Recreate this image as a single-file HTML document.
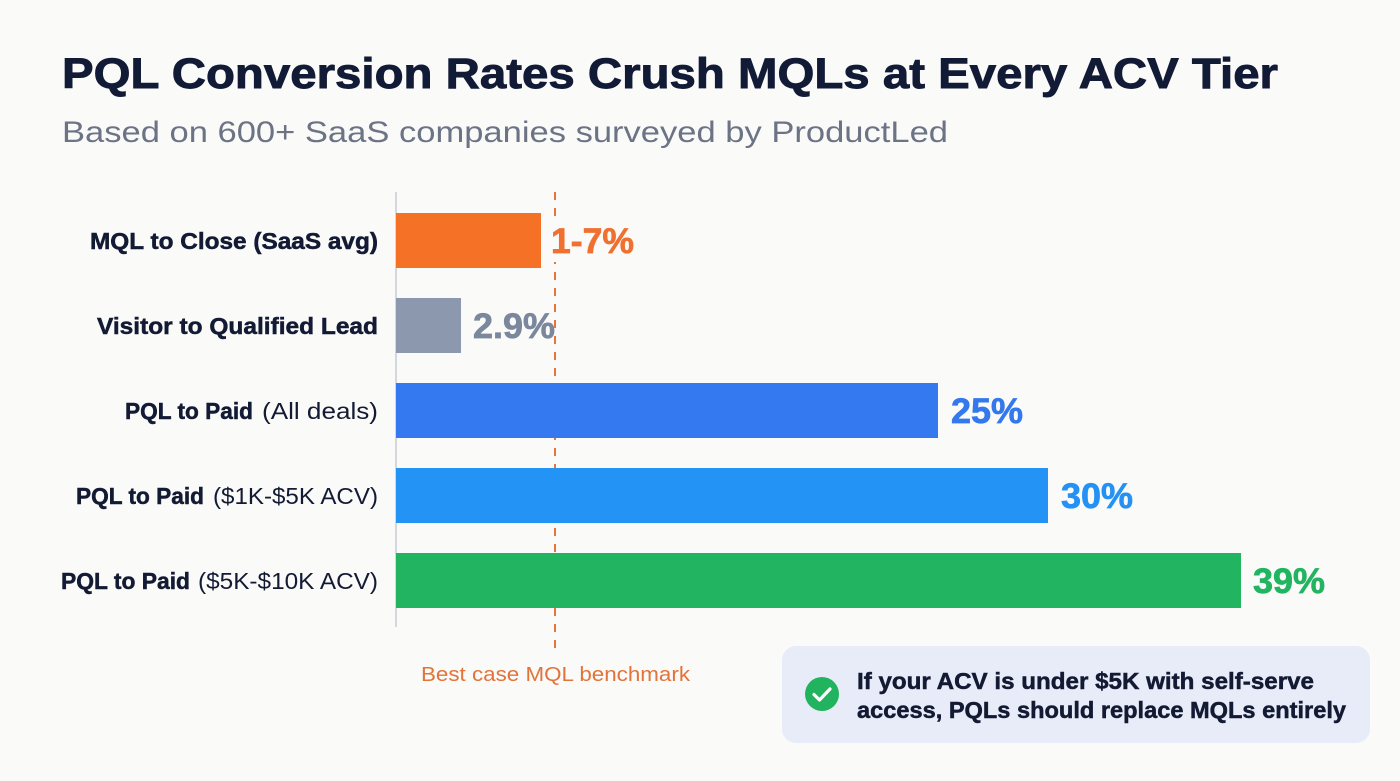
<!DOCTYPE html>
<html>
<head>
<meta charset="utf-8">
<style>
  html, body { margin:0; padding:0; background:#FAFAF9; }
  body { width:1400px; height:781px; overflow:hidden; }
  svg { display:block; font-family:"Liberation Sans", "DejaVu Sans", sans-serif; }
</style>
</head>
<body>
<svg width="1400" height="781" viewBox="0 0 1400 781" xmlns="http://www.w3.org/2000/svg">
  <rect x="0" y="0" width="1400" height="781" fill="#FAFAF9"/>

  <!-- Title -->
  <text x="62" y="88" font-size="43" font-weight="bold" fill="#121B36" stroke="#121B36" stroke-width="0.9" textLength="1216" lengthAdjust="spacingAndGlyphs">PQL Conversion Rates Crush MQLs at Every ACV Tier</text>
  <text x="62" y="142" font-size="30" fill="#6B7385" textLength="886" lengthAdjust="spacingAndGlyphs">Based on 600+ SaaS companies surveyed by ProductLed</text>

  <!-- Axis -->
  <line x1="396" y1="192" x2="396" y2="627" stroke="#D4D8DE" stroke-width="2"/>

  <!-- Dashed benchmark line -->
  <line x1="555" y1="192" x2="555" y2="652" stroke="#E8743B" stroke-width="2" stroke-dasharray="8 8"/>

  <!-- Bars -->
  <rect x="396" y="213" width="145" height="55" fill="#F47125"/>
  <rect x="396" y="298" width="65" height="55" fill="#8B98AD"/>
  <rect x="396" y="383" width="542" height="55" fill="#3579F0"/>
  <rect x="396" y="468" width="652" height="55" fill="#2493F6"/>
  <rect x="396" y="553" width="845" height="55" fill="#23B461"/>

  <!-- Category labels -->
  <g font-size="23" fill="#131A33">
    <text x="90" y="249" font-weight="bold" stroke="#131A33" stroke-width="0.5" textLength="288" lengthAdjust="spacingAndGlyphs">MQL to Close (SaaS avg)</text>
    <text x="97" y="334" font-weight="bold" stroke="#131A33" stroke-width="0.5" textLength="281" lengthAdjust="spacingAndGlyphs">Visitor to Qualified Lead</text>

    <text x="125" y="419" font-weight="bold" stroke="#131A33" stroke-width="0.5" textLength="128" lengthAdjust="spacingAndGlyphs">PQL to Paid</text>
    <text x="262" y="419" textLength="116" lengthAdjust="spacingAndGlyphs">(All deals)</text>

    <text x="76" y="504" font-weight="bold" stroke="#131A33" stroke-width="0.5" textLength="128" lengthAdjust="spacingAndGlyphs">PQL to Paid</text>
    <text x="213" y="504" textLength="165" lengthAdjust="spacingAndGlyphs">($1K-$5K ACV)</text>

    <text x="61" y="589" font-weight="bold" stroke="#131A33" stroke-width="0.5" textLength="129" lengthAdjust="spacingAndGlyphs">PQL to Paid</text>
    <text x="198" y="589" textLength="180" lengthAdjust="spacingAndGlyphs">($5K-$10K ACV)</text>
  </g>

  <!-- Value labels -->
  <g font-size="35" font-weight="bold">
    <rect x="548" y="222" width="90" height="40" fill="#FAFAF9"/>
    <text x="551" y="253" fill="#F07030" stroke="#F07030" stroke-width="0.7" textLength="83" lengthAdjust="spacingAndGlyphs">1-7%</text>
    <text x="473" y="338" fill="#7A879C" stroke="#7A879C" stroke-width="0.7" textLength="82" lengthAdjust="spacingAndGlyphs">2.9%</text>
    <text x="951" y="423" fill="#3478EE" stroke="#3478EE" stroke-width="0.7" textLength="72" lengthAdjust="spacingAndGlyphs">25%</text>
    <text x="1061" y="508" fill="#2492F5" stroke="#2492F5" stroke-width="0.7" textLength="72" lengthAdjust="spacingAndGlyphs">30%</text>
    <text x="1253" y="593" fill="#22B460" stroke="#22B460" stroke-width="0.7" textLength="72" lengthAdjust="spacingAndGlyphs">39%</text>
  </g>

  <!-- Benchmark label -->
  <text x="421" y="681" font-size="20" fill="#E2733A" textLength="269" lengthAdjust="spacingAndGlyphs">Best case MQL benchmark</text>

  <!-- Callout -->
  <rect x="782" y="646" width="588" height="97" rx="14" ry="14" fill="#E8ECF8"/>
  <circle cx="822" cy="694" r="17" fill="#22B35E"/>
  <path d="M814 694.5 L819.5 700 L830 689" fill="none" stroke="#FFFFFF" stroke-width="3.2" stroke-linecap="round" stroke-linejoin="round"/>
  <g font-size="23" font-weight="bold" fill="#131A33" stroke="#131A33" stroke-width="0.5">
    <text x="857" y="689" textLength="457" lengthAdjust="spacingAndGlyphs">If your ACV is under $5K with self-serve</text>
    <text x="857" y="718" textLength="489" lengthAdjust="spacingAndGlyphs">access, PQLs should replace MQLs entirely</text>
  </g>
</svg>
</body>
</html>
